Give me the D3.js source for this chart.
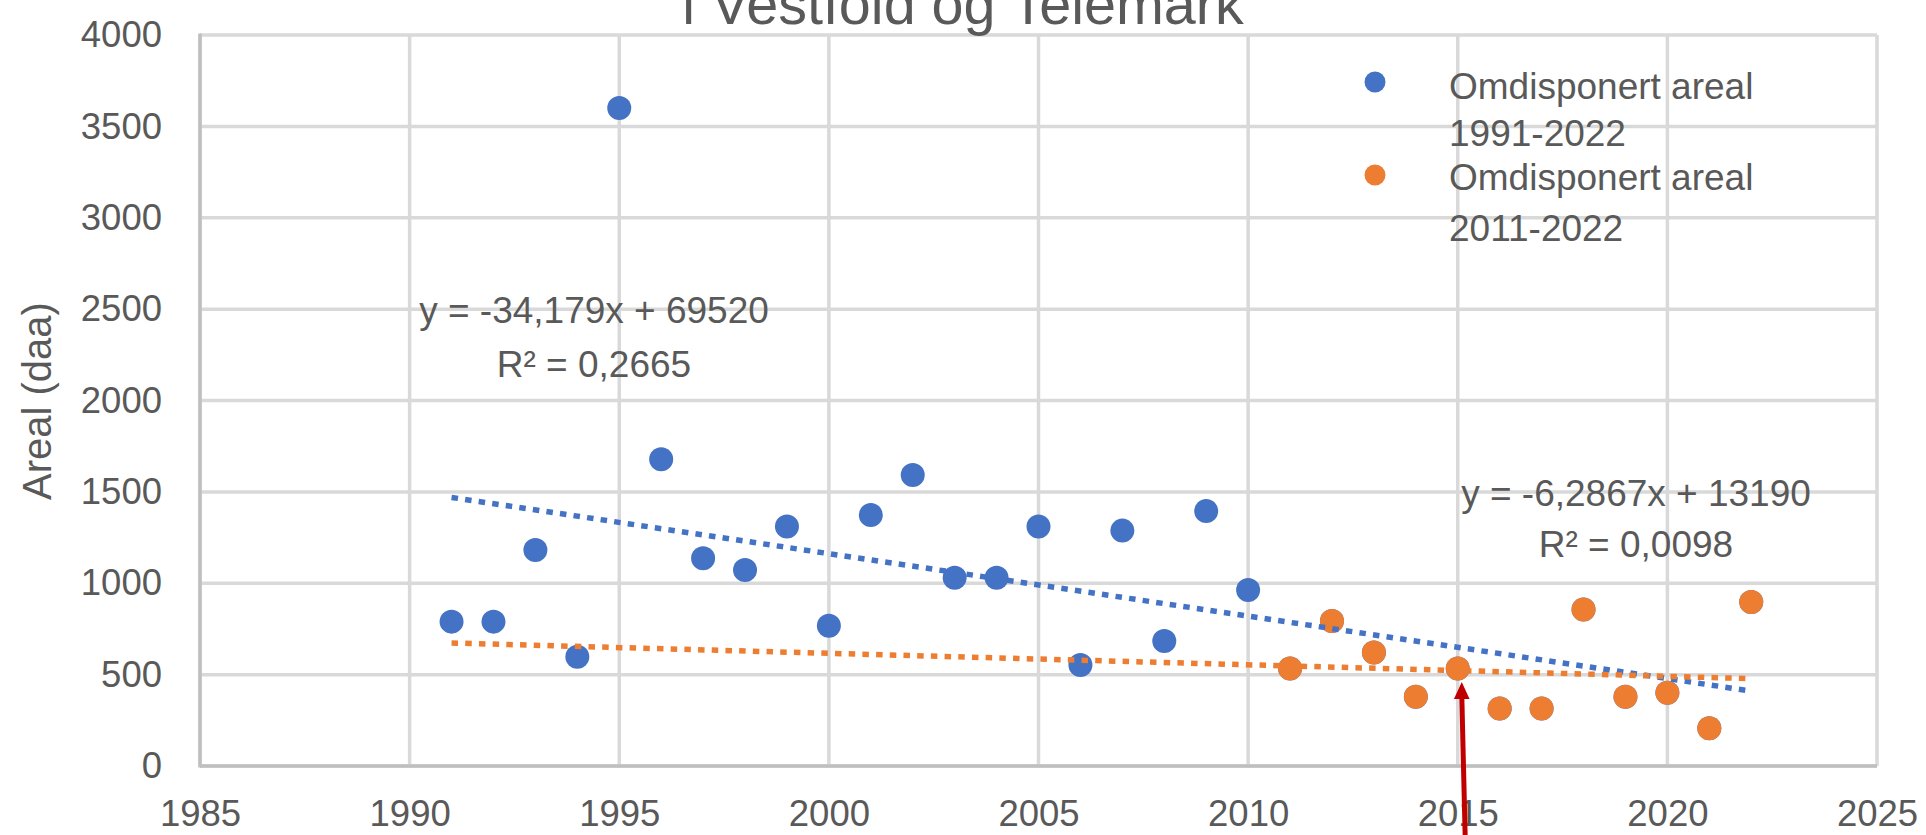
<!DOCTYPE html>
<html>
<head>
<meta charset="utf-8">
<script src="https://cdn.jsdelivr.net/npm/d3@7"></script>
<style>
  body { margin: 0; background: #ffffff; }
  svg text { font-family: "Liberation Sans", Arial, sans-serif; fill: #595959; }
</style>
</head>
<body>
<svg id="chart" width="1926" height="835"></svg>
<script>
// ---------------- DATA ----------------
const yearsAll = [1991,1992,1993,1994,1995,1996,1997,1998,1999,2000,2001,2002,2003,2004,2005,2006,
                  2007,2008,2009,2010,2011,2012,2013,2014,2015,2016,2017,2018,2019,2020,2021,2022];
const valuesAll = [790,790,1182,598,3600,1678,1137,1072,1310,768,1373,1592,1030,1030,1310,553,
                   1288,684,1395,963,534,794,621,379,534,315,315,856,379,401,206,898];
const years2011 = [2011,2012,2013,2014,2015,2016,2017,2018,2019,2020,2021,2022];
const values2011 = [534,794,621,379,534,315,315,856,379,401,206,898];

const seriesNames = [["Omdisponert areal", "1991-2022"], ["Omdisponert areal", "2011-2022"]];
const seriesColors = ["#4472C4", "#ED7D31"];

const trendSlopes = [-34.179, -6.2867];
const trendIntercepts = [69520, 13190];
const trendFrom = [1991, 1991];
const trendTo = [2022, 2022];
const trendLabels = [["y = -34,179x + 69520", "R² = 0,2665"], ["y = -6,2867x + 13190", "R² = 0,0098"]];

const xTicks = [1985,1990,1995,2000,2005,2010,2015,2020,2025];
const yTicks = [0,500,1000,1500,2000,2500,3000,3500,4000];

const titleText = "i Vestfold og Telemark";
const yAxisTitle = "Areal (daa)";
const arrowTarget = {year: 2015, value: 534};

// ---------------- DRAWING ----------------
const svg = d3.select("#chart");
const L = 200, R = 1877, T = 35, B = 766;
const x = d3.scaleLinear().domain([1985, 2025]).range([L, R]);
const y = d3.scaleLinear().domain([0, 4000]).range([B, T]);

// gridlines
const grid = svg.append("g");
grid.selectAll("line.h").data(yTicks).join("line")
  .attr("x1", L).attr("x2", R).attr("y1", d => y(d)).attr("y2", d => y(d))
  .attr("stroke", "#D9D9D9").attr("stroke-width", 3.5);
grid.selectAll("line.v").data(xTicks).join("line")
  .attr("y1", T).attr("y2", B).attr("x1", d => x(d)).attr("x2", d => x(d))
  .attr("stroke", "#D9D9D9").attr("stroke-width", 3.5);

// axes lines
svg.append("line").attr("x1", L).attr("x2", R).attr("y1", B).attr("y2", B)
  .attr("stroke", "#BFBFBF").attr("stroke-width", 3.5);
svg.append("line").attr("x1", L).attr("x2", L).attr("y1", T - 1.5).attr("y2", B + 1.5)
  .attr("stroke", "#BFBFBF").attr("stroke-width", 3.5);

// axis labels via d3 axes
const xAxis = svg.append("g").attr("transform", `translate(0,${B})`)
  .call(d3.axisBottom(x).tickValues(xTicks).tickFormat(d3.format("d")).tickSize(0).tickPadding(34.5));
const yAxis = svg.append("g").attr("transform", `translate(${L},0)`)
  .call(d3.axisLeft(y).tickValues(yTicks).tickFormat(d3.format("d")).tickSize(0).tickPadding(38));
[xAxis, yAxis].forEach(g => {
  g.select(".domain").remove();
  g.attr("font-family", null).attr("font-size", null);
  g.selectAll("text").style("font-size", "36.5px").style("fill", "#595959");
});

// points
const ptsBlue = yearsAll.map((yr, i) => ({yr, v: valuesAll[i]}));
const ptsOrange = years2011.map((yr, i) => ({yr, v: values2011[i]}));
svg.append("g").selectAll("circle").data(ptsBlue).join("circle")
  .attr("cx", d => x(d.yr)).attr("cy", d => y(d.v)).attr("r", 12).attr("fill", seriesColors[0]);
svg.append("g").selectAll("circle").data(ptsOrange).join("circle")
  .attr("cx", d => x(d.yr)).attr("cy", d => y(d.v)).attr("r", 12).attr("fill", seriesColors[1]);

// trendlines
const line = d3.line().x(d => x(d[0])).y(d => y(d[1]));
trendSlopes.forEach((s, i) => {
  const pts = [trendFrom[i], trendTo[i]].map(yr => [yr, s * yr + trendIntercepts[i]]);
  svg.append("path").attr("d", line(pts)).attr("fill", "none")
    .attr("stroke", seriesColors[i]).attr("stroke-width", 5.5)
    .attr("stroke-dasharray", "6.5 7.2");
});

// trendline equations
const eqPos = [[594, 323, 377], [1636, 506, 557]];
trendLabels.forEach((lab, i) => {
  const [cx, y1, y2] = eqPos[i];
  svg.append("text").attr("x", cx).attr("y", y1).attr("text-anchor", "middle")
    .style("font-size", "37px").text(lab[0]);
  svg.append("text").attr("x", cx).attr("y", y2).attr("text-anchor", "middle")
    .style("font-size", "37px").text(lab[1]);
});

// legend
const legY = [[82, 99, 146], [175, 190, 241]];
seriesNames.forEach((nm, i) => {
  const [my, t1, t2] = legY[i];
  svg.append("circle").attr("cx", 1375).attr("cy", my).attr("r", 10.5).attr("fill", seriesColors[i]);
  svg.append("text").attr("x", 1449).attr("y", t1).style("font-size", "37px").text(nm[0]);
  svg.append("text").attr("x", 1449).attr("y", t2).style("font-size", "37px").text(nm[1]);
});

// title (top part cut off like the reference)
svg.append("text").attr("x", 963).attr("y", 24).attr("text-anchor", "middle")
  .style("font-size", "57.5px").text(titleText);

// y axis title
svg.append("text").attr("transform", "translate(51,401) rotate(-90)")
  .attr("text-anchor", "middle").style("font-size", "40px").text(yAxisTitle);

// red arrow
const tipX = x(arrowTarget.year) + 4, tipY = y(arrowTarget.value) + 13.5;
svg.append("line").attr("x1", tipX + 3.5).attr("y1", 840).attr("x2", tipX).attr("y2", tipY + 12)
  .attr("stroke", "#C00000").attr("stroke-width", 5);
svg.append("path")
  .attr("d", `M${tipX},${tipY} L${tipX - 7.8},${tipY + 17} L${tipX + 7.8},${tipY + 17} Z`)
  .attr("fill", "#C00000");
</script>
</body>
</html>
